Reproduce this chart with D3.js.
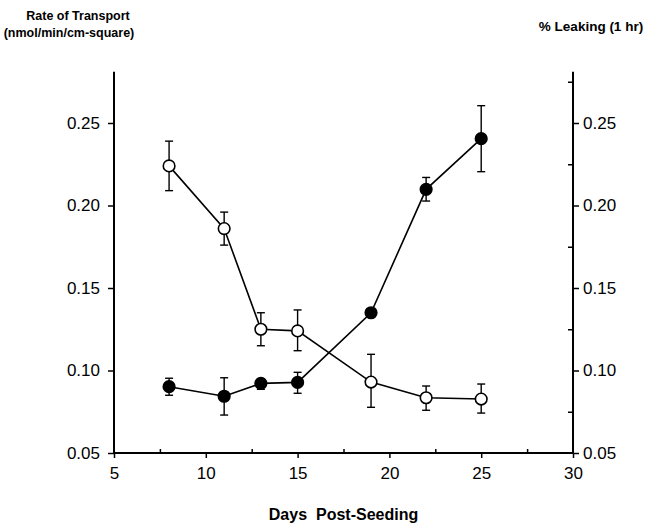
<!DOCTYPE html>
<html>
<head>
<meta charset="utf-8">
<script src="https://cdn.jsdelivr.net/npm/d3@7"></script>
<style>
  body { margin: 0; background: #fff; }
  svg { font-family: "Liberation Sans", Arial, Helvetica, sans-serif; }
</style>
</head>
<body>
<div id="chart"></div>
<script>
// days post-seeding
const days = [8, 11, 13, 15, 19, 22, 25];

// open circles: rate of transport (left axis)
const transport = [0.224, 0.186, 0.125, 0.124, 0.093, 0.0835, 0.0827];
const transportLo = [0.209, 0.176, 0.115, 0.112, 0.0777, 0.0759, 0.0742];
const transportHi = [0.239, 0.196, 0.135, 0.1367, 0.1098, 0.0906, 0.0918];

// filled circles: % leaking (right axis)
const leaking = [0.0902, 0.0844, 0.0922, 0.0928, 0.135, 0.2098, 0.2405];
const leakingLo = [0.085, 0.073, 0.0886, 0.0862, 0.135, 0.2027, 0.2205];
const leakingHi = [0.0953, 0.0956, 0.0948, 0.0989, 0.135, 0.217, 0.2605];

const xTicks = [5, 10, 15, 20, 25, 30];
const xMinor = [7.5, 12.5, 17.5, 22.5, 27.5];
const yTicks = [0.05, 0.10, 0.15, 0.20, 0.25];
const yMinor = [0.075, 0.125, 0.175, 0.225, 0.275];

const width = 649, height = 525;
const margin = { top: 72, right: 76, bottom: 72, left: 114 };

const svg = d3.select("#chart").append("svg")
  .attr("width", width)
  .attr("height", height);

const x = d3.scaleLinear()
  .domain([5, 30])
  .range([margin.left, width - margin.right]);

const y = d3.scaleLinear()
  .domain([0.05, 0.25])
  .range([453, 123]);

const yTop = y(0.281);

// ---- axes ----
const xAxis = svg.append("g")
  .attr("transform", `translate(0, ${y(0.05)})`)
  .call(d3.axisBottom(x).tickValues(xTicks).tickSize(5).tickPadding(9).tickFormat(d3.format("d")));

svg.append("g")
  .attr("transform", `translate(0, ${y(0.05)})`)
  .call(d3.axisTop(x).tickValues(xMinor).tickSize(4).tickFormat(""))
  .call(g => g.select(".domain").remove());

const yLeft = svg.append("g")
  .attr("transform", `translate(${margin.left}, 0)`)
  .call(d3.axisLeft(y).tickValues(yTicks).tickSize(6).tickPadding(8).tickFormat(d3.format(".2f")));

const yRight = svg.append("g")
  .attr("transform", `translate(${width - margin.right}, 0)`)
  .call(d3.axisRight(y).tickValues(yTicks).tickSize(6).tickPadding(4).tickFormat(d3.format(".2f")));

svg.append("g")
  .attr("transform", `translate(${width - margin.right}, 0)`)
  .call(d3.axisLeft(y).tickValues(yMinor).tickSize(5).tickFormat(""))
  .call(g => g.select(".domain").remove());

// extend vertical axis lines up to the top
[yLeft, yRight].forEach(g => g.select(".domain").remove());
[margin.left, width - margin.right].forEach(px => {
  svg.append("line")
    .attr("x1", px).attr("x2", px)
    .attr("y1", yTop).attr("y2", y(0.05))
    .attr("stroke", "#000").attr("stroke-width", 2);
});
xAxis.select(".domain").attr("d", `M${x(5)},0H${x(30)}`);

svg.selectAll(".tick line").attr("stroke", "#000").attr("stroke-width", 1.5);
svg.selectAll(".domain").attr("stroke", "#000").attr("stroke-width", 2);
svg.selectAll(".tick text")
  .attr("fill", "#000")
  .style("font-size", "17px");

// ---- titles ----
svg.append("text")
  .attr("x", 78).attr("y", 20)
  .attr("text-anchor", "middle")
  .style("font-size", "12.5px").style("font-weight", "bold")
  .text("Rate of Transport");
svg.append("text")
  .attr("x", 69).attr("y", 37)
  .attr("text-anchor", "middle")
  .style("font-size", "12.5px").style("font-weight", "bold")
  .text("(nmol/min/cm-square)");
svg.append("text")
  .attr("x", 591).attr("y", 31)
  .attr("text-anchor", "middle")
  .style("font-size", "13.5px").style("font-weight", "bold")
  .text("% Leaking (1 hr)");
svg.append("text")
  .attr("x", (x(5) + x(30)) / 2).attr("y", 520)
  .attr("text-anchor", "middle")
  .style("font-size", "16px").style("font-weight", "bold")
  .attr("xml:space", "preserve")
  .text("Days  Post-Seeding");

// ---- series ----
function drawSeries(vals, lo, hi, fill) {
  const pts = days.map((d, i) => ({ d, v: vals[i], lo: lo[i], hi: hi[i] }));
  const line = d3.line().x(p => x(p.d)).y(p => y(p.v));

  svg.append("path")
    .datum(pts)
    .attr("d", line)
    .attr("fill", "none")
    .attr("stroke", "#000")
    .attr("stroke-width", 1.6);

  const err = svg.append("g").selectAll("g")
    .data(pts.filter(p => p.hi > p.lo))
    .enter().append("g")
    .attr("stroke", "#000")
    .attr("stroke-width", 1.4);
  err.append("line")
    .attr("x1", p => x(p.d)).attr("x2", p => x(p.d))
    .attr("y1", p => y(p.lo)).attr("y2", p => y(p.hi));
  err.append("line")
    .attr("x1", p => x(p.d) - 4).attr("x2", p => x(p.d) + 4)
    .attr("y1", p => y(p.lo)).attr("y2", p => y(p.lo));
  err.append("line")
    .attr("x1", p => x(p.d) - 4).attr("x2", p => x(p.d) + 4)
    .attr("y1", p => y(p.hi)).attr("y2", p => y(p.hi));

  svg.append("g").selectAll("circle")
    .data(pts)
    .enter().append("circle")
    .attr("cx", p => x(p.d))
    .attr("cy", p => y(p.v))
    .attr("r", 5.8)
    .attr("fill", fill)
    .attr("stroke", "#000")
    .attr("stroke-width", 1.6);
}

drawSeries(transport, transportLo, transportHi, "#fff");
drawSeries(leaking, leakingLo, leakingHi, "#000");
</script>
</body>
</html>
